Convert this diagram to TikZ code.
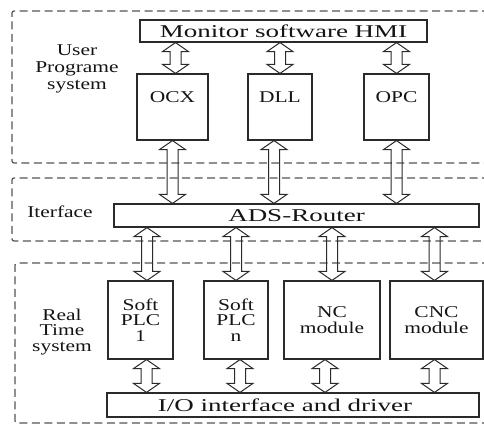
\documentclass[tikz,border=0pt]{standalone}
\usepackage{fontspec}
\setmainfont{Liberation Serif}
\newfontfamily\bigfont[FakeStretch=1.5]{Liberation Serif}
\newfontfamily\midfont[FakeStretch=1.3]{Liberation Serif}
\usetikzlibrary{calc}
\definecolor{lncol}{HTML}{2A2A2A}
\definecolor{dshcol}{HTML}{555555}
\definecolor{txtcol}{HTML}{141414}
\tikzset{
  box/.style={draw=lncol, line width=1.2pt, inner sep=0pt, text=txtcol},
  bigtxt/.style={font=\bigfont\fontsize{18}{18}\selectfont, text=txtcol},
  midtxt/.style={font=\midfont\fontsize{16.5}{15.5}\selectfont, text=txtcol, align=center, inner sep=0pt},
  region/.style={draw=dshcol, line width=1.2pt, dash pattern=on 8pt off 4.5pt, rounded corners=2pt},
  dblar/.style={draw=lncol, line width=1pt, line join=miter}
}
\newcommand{\dblarrow}[2]{%
  \path #1 coordinate (da-a);
  \path #2 coordinate (da-b);
  \draw[dblar] (da-a) -- ($(da-a)+(13,9)$) -- ($(da-a)+(5.5,9)$) -- ($(da-b)+(5.5,-9)$) -- ($(da-b)+(13,-9)$) -- (da-b) -- ($(da-b)+(-13,-9)$) -- ($(da-b)+(-5.5,-9)$) -- ($(da-a)+(-5.5,9)$) -- ($(da-a)+(-13,9)$) -- cycle;
}
\begin{document}
\begin{tikzpicture}[x=1pt, y=-1pt]
\useasboundingbox (0,0) rectangle (484,425);
% dashed regions (open to the right)
\draw[region] (490,11) -- (12,11) -- (12,163) -- (490,163);
\draw[region] (490,178) -- (12,178) -- (12,241) -- (490,241);
\draw[region] (490,263) -- (15,263) -- (15,423) -- (490,423);
% region labels
\node[midtxt, font=\midfont\fontsize{16.5}{17}\selectfont] (lbluser) at (77,69) {User\\Programe\\system};
\node[midtxt] (lblif) at (60,212) {Iterface};
\node[midtxt] (lblrt) at (62,332) {Real\\Time\\system};
% boxes
\node[box, bigtxt, minimum width=287, minimum height=22] (hmi) at (283.5,31) {Monitor software HMI};
\node[box, minimum width=71, minimum height=66, label={[midtxt, yshift=10pt]center:OCX}] (ocx) at (172.5,107) {};
\node[box, minimum width=64, minimum height=66, label={[midtxt, yshift=10pt]center:DLL}] (dll) at (280,107) {};
\node[box, minimum width=65, minimum height=66, label={[midtxt, yshift=10pt]center:OPC}] (opc) at (396.5,107) {};
\node[box, bigtxt, minimum width=365, minimum height=23] (ads) at (296.5,215.5) {ADS-Router};
\node[box, midtxt, minimum width=65, minimum height=78] (plc1) at (140.5,320) {Soft\\PLC\\1};
\node[box, midtxt, minimum width=64, minimum height=78] (plcn) at (236,320) {Soft\\PLC\\n};
\node[box, midtxt, minimum width=96, minimum height=78] (nc) at (332,320) {NC\\module};
\node[box, midtxt, minimum width=93, minimum height=78] (cnc) at (436.5,320) {CNC\\module};
\node[box, bigtxt, minimum width=372, minimum height=24, label={[bigtxt, xshift=-8pt]center:I/O interface and driver}] (io) at (293,405) {};
% arrows: HMI <-> OCX/DLL/OPC
\dblarrow{($(hmi.south -| ocx)+(3,0)$)}{($(ocx.north)+(3,0)$)}
\dblarrow{(hmi.south -| dll)}{(dll.north)}
\dblarrow{(hmi.south -| opc)}{(opc.north)}
% OCX/DLL/OPC <-> ADS
\dblarrow{(ocx.south)}{(ads.north -| ocx)}
\dblarrow{($(dll.south)+(-6,0)$)}{($(ads.north -| dll)+(-6,0)$)}
\dblarrow{(opc.south)}{(ads.north -| opc)}
% ADS <-> real-time modules
\dblarrow{($(ads.south -| plc1)+(6.5,0)$)}{($(plc1.north)+(6.5,0)$)}
\dblarrow{(ads.south -| plcn)}{(plcn.north)}
\dblarrow{(ads.south -| nc)}{(nc.north)}
\dblarrow{($(ads.south -| cnc)+(-2,0)$)}{($(cnc.north)+(-2,0)$)}
% modules <-> I/O
\dblarrow{($(plc1.south)+(6,0)$)}{($(io.north -| plc1)+(6,0)$)}
\dblarrow{($(plcn.south)+(4,0)$)}{($(io.north -| plcn)+(4,0)$)}
\dblarrow{($(nc.south)+(-7,0)$)}{($(io.north -| nc)+(-7,0)$)}
\dblarrow{($(cnc.south)+(-2,0)$)}{($(io.north -| cnc)+(-2,0)$)}
\end{tikzpicture}
\end{document}
